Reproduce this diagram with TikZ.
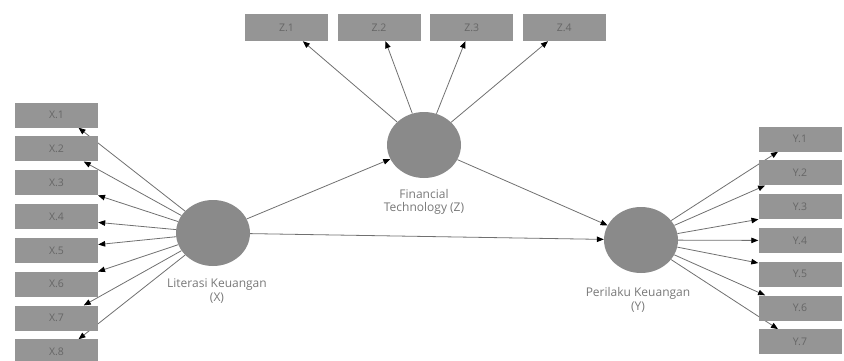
\documentclass[tikz,border=0pt]{standalone}
\usepackage{fontspec}
\setmainfont{Open Sans}
\usetikzlibrary{shapes.geometric,arrows.meta,backgrounds}
\definecolor{boxgray}{HTML}{959595}
\definecolor{lvgray}{HTML}{8A8A8A}
\definecolor{linegray}{HTML}{707070}
\definecolor{labgray}{HTML}{787878}
\tikzset{
  indicator/.style={rectangle,fill=boxgray,minimum width=83pt,minimum height=25pt,
    inner sep=0pt,text=black!60,font=\fontsize{10.5}{12}\selectfont},
  latent/.style={ellipse,fill=lvgray,minimum width=74pt,minimum height=66pt,inner sep=0pt},
  lvlabel/.style={align=center,text=labgray,font=\fontsize{12}{13.5}\selectfont},
  loading/.style={draw=linegray,line width=.8pt,-{Triangle[length=7pt,width=5.5pt,color=black]}}
}
\begin{document}
\begin{tikzpicture}[x=1pt,y=-1pt]
\useasboundingbox (0,0) rectangle (844,360);
% latent variables
\node[latent] (X) at (213,233) {};
\node[latent] (Z) at (424,145) {};
\node[latent] (Y) at (641,240) {};
\node[lvlabel] (Xlab) at (217,291) {Literasi Keuangan\\(X)};
\node[lvlabel] (Zlab) at (424,202) {Financial\\Technology (Z)};
\node[lvlabel] (Ylab) at (638,300) {Perilaku Keuangan\\(Y)};
% indicators
\foreach \i in {1,...,8}
  \node[indicator] (x\i) at (56.5,{115+33.85*(\i-1)}) {X.\i};
\foreach \i in {1,...,4}
  \node[indicator,minimum height=27pt] (z\i) at ({286.5+92.6*(\i-1)},27.5) {Z.\i};
\foreach \i in {1,...,7}
  \node[indicator] (y\i) at (800,{139+33.8*(\i-1)}) {Y.\i};
% outer loadings, behind the boxes
\begin{scope}[on background layer]
\foreach \i/\a in {1/-30,2/-25,3/-17,4/-8,5/8,6/17,7/25,8/30}
  \draw[loading] (X) -- (x\i.\a);
\foreach \i/\a in {1/-40,2/-65,3/-115,4/-140}
  \draw[loading] (Z) -- (z\i.\a);
\foreach \i/\a in {1/-150,2/-160,3/-163,4/180,5/165,6/160,7/150}
  \draw[loading] (Y) -- (y\i.\a);
\end{scope}
% structural paths
\draw[loading] (X) -- (Z);
\draw[loading] (Z) -- (Y);
\draw[loading] (X) -- (Y);
\end{tikzpicture}
\end{document}
